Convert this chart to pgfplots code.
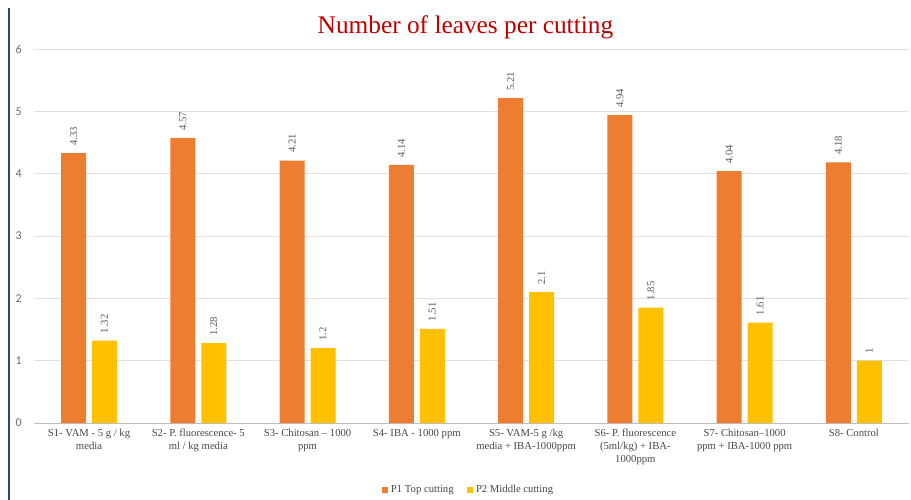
\documentclass[border=0pt]{standalone}
\usepackage{fontspec}
\setmainfont{Liberation Serif}
\newfontfamily\carlito{Carlito}
\usepackage{pgfplots}
\pgfplotsset{compat=1.18}
\definecolor{orangeB}{HTML}{ED7D31}
\definecolor{yellowB}{HTML}{FFC000}
\definecolor{gridc}{HTML}{E0E0E0}
\definecolor{labc}{HTML}{595959}
\definecolor{titlec}{HTML}{C00000}
\definecolor{framec}{HTML}{2F3F80}
\begin{document}
\begin{tikzpicture}
\path[use as bounding box] (-25.8pt,-57.75pt) rectangle (657.45pt,317.25pt);
\draw[framec, line width=1.2pt] (-19.05pt,-57.75pt) -- (-19.05pt,311.25pt);
\begin{axis}[
  at={(0,0)}, anchor=south west,
  scale only axis,
  width=655.6pt, height=280.5pt,
  ymin=0, ymax=6, ytick={0,1,...,6},
  xmin=-0.5, xmax=7.5,
  xtick={0,...,7},
  xticklabels={
    {S1- VAM - 5 g / kg\\media},
    {S2- P. fluorescence- 5\\ml / kg media},
    {S3- Chitosan – 1000\\ppm},
    {S4- IBA - 1000 ppm},
    {S5- VAM-5 g /kg\\media + IBA-1000ppm},
    {S6- P. fluorescence\\(5ml/kg) + IBA-\\1000ppm},
    {S7- Chitosan–1000\\ppm + IBA-1000 ppm},
    {S8- Control}},
  xticklabel style={align=center, font=\fontsize{8}{9.6}\selectfont, text=labc!80!black, yshift=-1pt},
  yticklabel style={font=\carlito\fontsize{9}{10}\selectfont, text=labc!90!white, xshift=-6pt},
  /pgf/number format/assume math mode=true,
  major tick length=0pt,
  tick style={draw=none},
  axis line style={draw=none},
  ymajorgrids, grid style={gridc, line width=0.6pt},
  extra y ticks={0}, extra y tick labels={},
  extra y tick style={grid style={gridc!85!black, line width=0.6pt}},
  ybar, bar width=18.75pt,
  nodes near coords,
  every node near coord/.append style={rotate=90, anchor=west, inner sep=5.5pt, font=\fontsize{8}{9.6}\selectfont, text=labc},
  legend style={at={(0.497,-0.179)}, anchor=center, draw=none, legend columns=2,
    font=\fontsize{8}{9.6}\selectfont, text=labc!80!black,
    /tikz/every even column/.append style={column sep=8pt}},
  legend image code/.code={\fill[#1, draw=none] (0pt,-2.4pt) rectangle (4.8pt,2.4pt);},
  clip=false,
]
\addplot[fill=orangeB, draw=none, bar shift=-11.6pt] coordinates {(0,4.33) (1,4.57) (2,4.21) (3,4.14) (4,5.21) (5,4.94) (6,4.04) (7,4.18)};
\addplot[fill=yellowB, draw=none, bar shift=11.6pt] coordinates {(0,1.32) (1,1.28) (2,1.2) (3,1.51) (4,2.1) (5,1.85) (6,1.61) (7,1)};
\legend{P1 Top cutting, P2 Middle cutting}
\end{axis}
\node[text=titlec, font=\fontsize{19}{22}\selectfont] at (323.3pt,297pt) {Number of leaves per cutting};
\end{tikzpicture}
\end{document}
